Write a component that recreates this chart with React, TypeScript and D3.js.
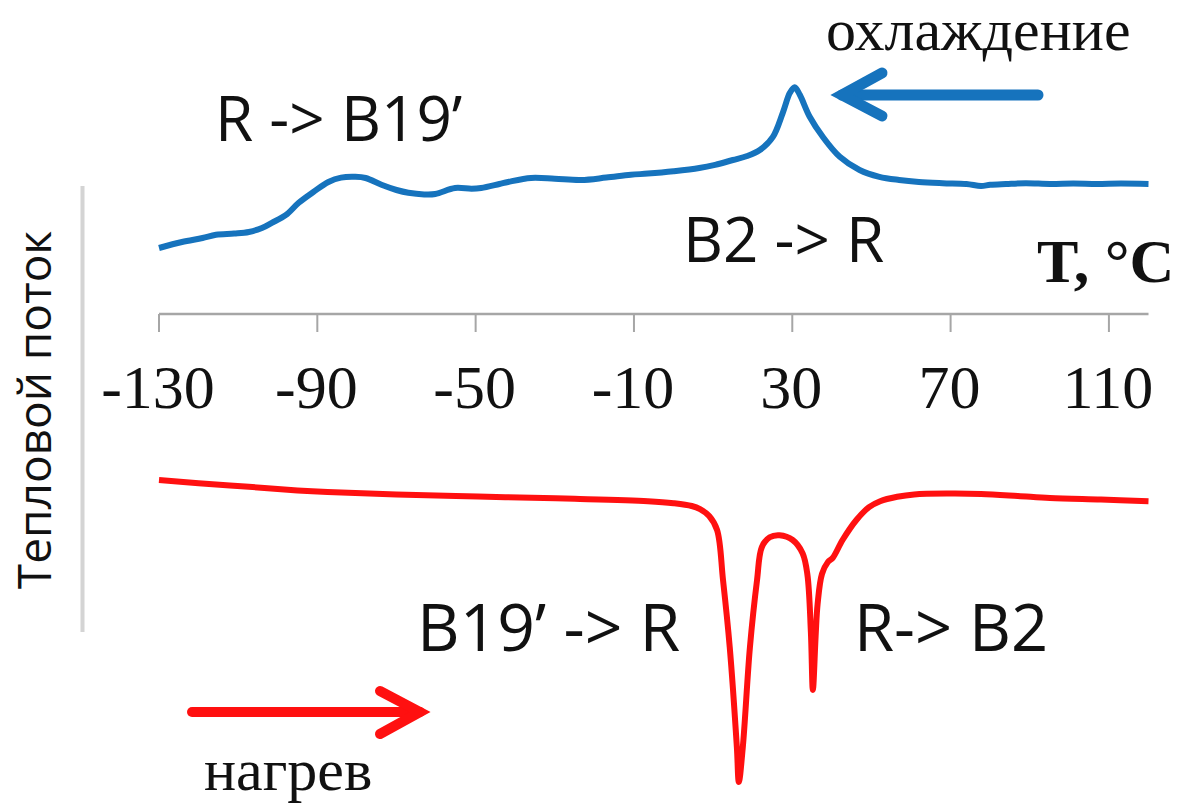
import React from "react";
import * as d3 from "d3";

// Temperature axis
const tickValues = [-130, -90, -50, -10, 30, 70, 110];
const tempDomain: [number, number] = [-130, 120];

// Cooling run (heat flow, arbitrary units)
const coolingT = [
  -130, -124.2, -119, -115.6, -111, -107.3, -104, -101.5, -98, -94.7, -91, -87.2, -84, -80.4, -77.8,
  -73.8, -70, -67, -63, -60.2, -55.2, -51, -48.6, -44, -41.8, -36, -30, -23.4, -17, -10.8, -6.5,
  0, 6.5, 10.5, 15, 18.6, 21.8, 25.1, 27.6, 29.4, 30.6, 31.9, 34.4, 37.7, 42, 47, 52, 57, 62, 68,
  74, 77.7, 80, 84, 89, 95.1, 101, 107, 113, 120,
];
const coolingFlow = [
  5.8, 5.95, 6.05, 6.13, 6.16, 6.2, 6.3, 6.43, 6.62, 6.93, 7.2, 7.45, 7.56, 7.58, 7.55,
  7.38, 7.25, 7.18, 7.14, 7.15, 7.3, 7.28, 7.3, 7.4, 7.45, 7.55, 7.53, 7.5, 7.56, 7.63, 7.66,
  7.72, 7.8, 7.88, 8.0, 8.1, 8.25, 8.58, 9.18, 9.68, 9.82, 9.63, 9.08, 8.58, 8.08, 7.75, 7.58, 7.5, 7.45, 7.42,
  7.4, 7.35, 7.38, 7.4, 7.42, 7.4, 7.41, 7.4, 7.41, 7.4,
];

// Heating run (heat flow, arbitrary units)
const heatingT = [
  -130, -120, -107.3, -95, -87.4, -70, -55, -42.5, -25, -6.5, 0, 4.6, 6.7, 9, 11, 12.5, 14.2,
  16, 16.5, 17.5, 19.3, 21.1, 22.3, 24.3, 26.8, 30.1, 32.6, 33.8, 34.7, 35.2, 35.9, 36.4, 37.5,
  39, 40.2, 42.7, 46.2, 49.4, 52.2, 56.5, 60.8, 70, 77.7, 87, 95.1, 108, 120,
];
const heatingFlow = [
  0, -0.08, -0.17, -0.26, -0.3, -0.36, -0.4, -0.43, -0.47, -0.53, -0.58, -0.65, -0.73, -0.9, -1.25, -2.5, -4.18,
  -6.68, -7.55, -6.68, -4.18, -2.5, -1.68, -1.43, -1.38, -1.5, -1.83, -2.35, -3.8, -5.25, -3.9, -3.1, -2.35,
  -2.05, -1.95, -1.5, -1.0, -0.68, -0.53, -0.42, -0.36, -0.34, -0.35, -0.4, -0.45, -0.49, -0.53,
];

// Annotation labels
const coolingLabel = "охлаждение";
const heatingLabel = "нагрев";
const yTitle = "Тепловой поток";
const xTitle = "T, °C";
const transitionLabels = ["R -> B19’", "B2 -> R", "B19’ -> R", "R-> B2"];

const W = 1190;
const H = 807;
const BLUE = "#1673bd";
const RED = "#ff1010";
const SANS = "'Open Sans', 'DejaVu Sans', sans-serif";
const SERIF = "'Liberation Serif', 'Times New Roman', serif";

export default function App() {
  const x = d3.scaleLinear().domain(tempDomain).range([159, 1148.5]);
  const y = d3.scaleLinear().domain([0, 10]).range([480, 80]);
  const axisY = 314;

  const line = d3
    .line<[number, number]>()
    .x((d) => x(d[0]))
    .y((d) => y(d[1]))
    .curve(d3.curveCatmullRom.alpha(0.5));

  const cooling = coolingT.map((t, i) => [t, coolingFlow[i]] as [number, number]);
  const heating = heatingT.map((t, i) => [t, heatingFlow[i]] as [number, number]);

  return (
    <svg
      width={W}
      height={H}
      viewBox={`0 0 ${W} ${H}`}
      style={{ position: "absolute", left: 0, top: 0, background: "#fff" }}
    >
      <rect width={W} height={H} fill="#fff" />

      {/* heat-flow axis */}
      <line x1={82.5} x2={82.5} y1={186} y2={632} stroke="#d4d4d4" strokeWidth={4} />
      <text
        transform="translate(51,410) rotate(-90)"
        textAnchor="middle"
        fontFamily={SANS}
        fontSize={46}
        fill="#111"
      >
        {yTitle}
      </text>

      {/* temperature axis */}
      <line x1={x(-130)} x2={x(120)} y1={axisY} y2={axisY} stroke="#a6a6a6" strokeWidth={2.5} />
      {tickValues.map((t) => (
        <g key={t}>
          <line x1={x(t)} x2={x(t)} y1={axisY} y2={axisY + 18} stroke="#a6a6a6" strokeWidth={2} />
          <text
            x={x(t) - 1}
            y={408}
            textAnchor="middle"
            fontFamily={SERIF}
            fontSize={62}
            fill="#111"
          >
            {t}
          </text>
        </g>
      ))}
      <text x={1037} y={282} fontFamily={SERIF} fontWeight="bold" fontSize={62} fill="#111">
        {xTitle}
      </text>

      {/* curves */}
      <path d={line(cooling) ?? ""} fill="none" stroke={BLUE} strokeWidth={6} strokeLinejoin="round" />
      <path d={line(heating) ?? ""} fill="none" stroke={RED} strokeWidth={6} strokeLinejoin="round" />

      {/* direction arrows */}
      <g stroke={BLUE} strokeWidth={11} strokeLinecap="round" fill="none">
        <line x1={842} x2={1038} y1={95} y2={95} />
        <polyline points="882,73 842,95 882,116" strokeLinejoin="miter" />
      </g>
      <text x={826} y={50} fontFamily={SERIF} fontSize={60} fill="#111">
        {coolingLabel}
      </text>

      <g stroke={RED} strokeWidth={10} strokeLinecap="round" fill="none">
        <line x1={192} x2={420} y1={712} y2={712} />
        <polyline points="380,691 420,712 380,734" strokeLinejoin="miter" />
      </g>
      <text x={204} y={790} fontFamily={SERIF} fontSize={60} fill="#111">
        {heatingLabel}
      </text>

      {/* transition labels */}
      <g fontFamily={SANS} fill="#111">
        <text x={215} y={141} fontSize={62}>{transitionLabels[0]}</text>
        <text x={683} y={262} fontSize={62}>{transitionLabels[1]}</text>
        <text x={417} y={651} fontSize={66}>{transitionLabels[2]}</text>
        <text x={854} y={651} fontSize={65}>{transitionLabels[3]}</text>
      </g>
    </svg>
  );
}
